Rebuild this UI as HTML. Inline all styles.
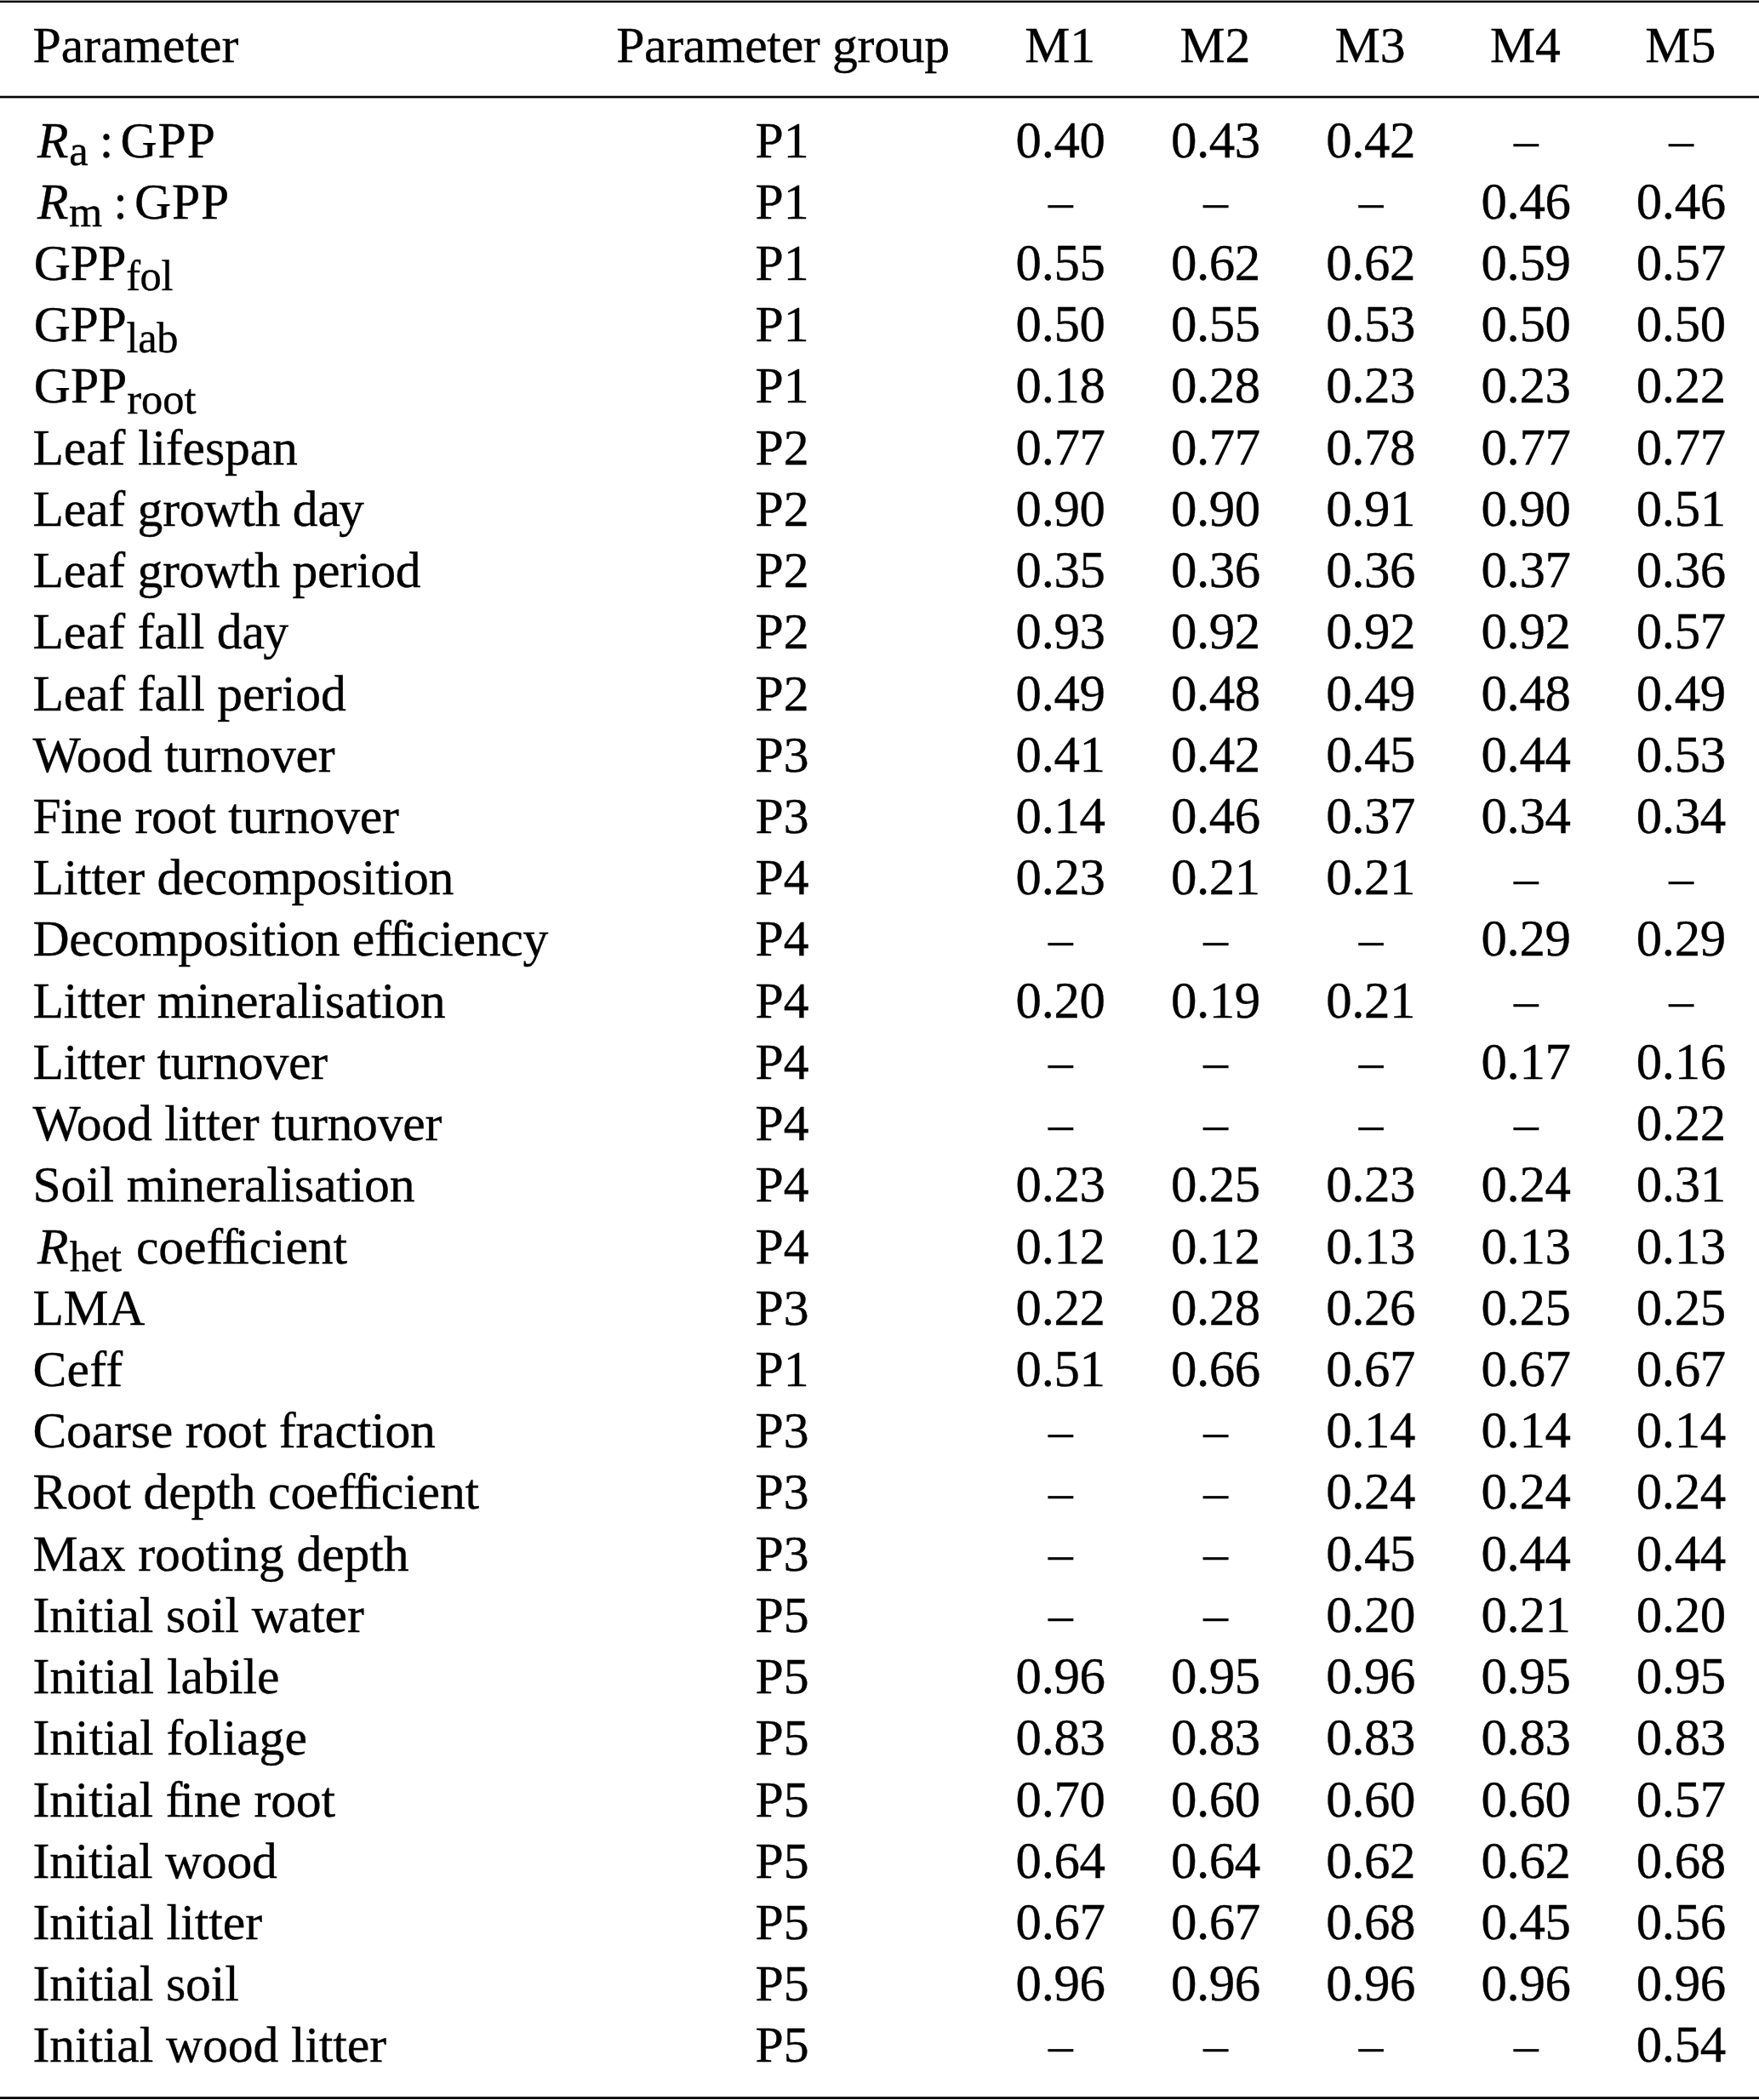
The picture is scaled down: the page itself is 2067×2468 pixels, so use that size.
<!DOCTYPE html>
<html lang="en"><head><meta charset="utf-8"><title>Table</title>
<style>
html,body{margin:0;padding:0;background:#fff;}
body{width:2067px;height:2468px;overflow:hidden;}
svg{display:block;}
text{stroke:#000;stroke-width:0.35px;font-family:"Liberation Serif","Times New Roman",Times,serif;font-size:59.7px;fill:#000;white-space:pre;}
.c{text-anchor:middle;}
.n{text-anchor:middle;font-size:57.4px;}
.d{text-anchor:middle;font-size:60.9px;letter-spacing:-0.4px;}
</style></head><body>
<svg width="2067" height="2468" viewBox="0 0 2067 2468">
<rect x="0" y="0" width="2067" height="2468" fill="#fff"/>
<rect x="0" y="0.6" width="2067" height="2.5" fill="#000"/>
<rect x="0" y="112.7" width="2067" height="2.6" fill="#000"/>
<rect x="0" y="2464.2" width="2067" height="2.8" fill="#000"/>

<text x='38.5' y='72.7'>Parameter</text>
<text class='c' x='920' y='72.7' letter-spacing='-0.3'>Parameter group</text>
<text class='c' x='1245.6' y='72.7'>M1</text>
<text class='c' x='1427.9' y='72.7'>M2</text>
<text class='c' x='1610.2' y='72.7'>M3</text>
<text class='c' x='1792.5' y='72.7'>M4</text>
<text class='c' x='1974.8' y='72.7'>M5</text>
<text x='38.5' y='184.60' letter-spacing='-0.300'><tspan font-style='italic' dx='5.6'>R</tspan><tspan font-size='50.45' dy='9.2' dx='0.9'>a</tspan><tspan dy='-9.2' dx='13.4'>:</tspan><tspan dx='8.6' letter-spacing='0.9'>GPP</tspan></text>
<text class='c' x='919' y='184.60'>P1</text>
<text class='d' x='1246.1' y='184.60'>0.40</text>
<text class='d' x='1428.4' y='184.60'>0.43</text>
<text class='d' x='1610.7' y='184.60'>0.42</text>
<text class='n' x='1793.3' y='184.10'>–</text>
<text class='n' x='1975.6' y='184.10'>–</text>
<text x='38.5' y='256.82' letter-spacing='-0.440'><tspan font-style='italic' dx='5.6'>R</tspan><tspan font-size='50.45' dy='9.2' dx='0.9'>m</tspan><tspan dy='-9.2' dx='13.4'>:</tspan><tspan dx='8.6' letter-spacing='0.9'>GPP</tspan></text>
<text class='c' x='919' y='256.82'>P1</text>
<text class='n' x='1246.4' y='256.32'>–</text>
<text class='n' x='1428.7' y='256.32'>–</text>
<text class='n' x='1611.0' y='256.32'>–</text>
<text class='d' x='1793.0' y='256.82'>0.46</text>
<text class='d' x='1975.3' y='256.82'>0.46</text>
<text x='38.5' y='329.04' letter-spacing='-0.380'><tspan dx='1.3'>GPP</tspan><tspan font-size='50.45' dy='12.3' dx='0'>fol</tspan></text>
<text class='c' x='919' y='329.04'>P1</text>
<text class='d' x='1246.1' y='329.04'>0.55</text>
<text class='d' x='1428.4' y='329.04'>0.62</text>
<text class='d' x='1610.7' y='329.04'>0.62</text>
<text class='d' x='1793.0' y='329.04'>0.59</text>
<text class='d' x='1975.3' y='329.04'>0.57</text>
<text x='38.5' y='401.26' letter-spacing='-0.280'><tspan dx='1.3'>GPP</tspan><tspan font-size='50.45' dy='12.3' dx='0'>lab</tspan></text>
<text class='c' x='919' y='401.26'>P1</text>
<text class='d' x='1246.1' y='401.26'>0.50</text>
<text class='d' x='1428.4' y='401.26'>0.55</text>
<text class='d' x='1610.7' y='401.26'>0.53</text>
<text class='d' x='1793.0' y='401.26'>0.50</text>
<text class='d' x='1975.3' y='401.26'>0.50</text>
<text x='38.5' y='473.48' letter-spacing='0.000'><tspan dx='1.3'>GPP</tspan><tspan font-size='50.45' dy='12.3' dx='0'>root</tspan></text>
<text class='c' x='919' y='473.48'>P1</text>
<text class='d' x='1246.1' y='473.48'>0.18</text>
<text class='d' x='1428.4' y='473.48'>0.28</text>
<text class='d' x='1610.7' y='473.48'>0.23</text>
<text class='d' x='1793.0' y='473.48'>0.23</text>
<text class='d' x='1975.3' y='473.48'>0.22</text>
<text x='38.5' y='545.70' letter-spacing='-0.150'>Leaf lifespan</text>
<text class='c' x='919' y='545.70'>P2</text>
<text class='d' x='1246.1' y='545.70'>0.77</text>
<text class='d' x='1428.4' y='545.70'>0.77</text>
<text class='d' x='1610.7' y='545.70'>0.78</text>
<text class='d' x='1793.0' y='545.70'>0.77</text>
<text class='d' x='1975.3' y='545.70'>0.77</text>
<text x='38.5' y='617.92' letter-spacing='-0.243'>Leaf growth da<tspan dx='-1.6'>y</tspan></text>
<text class='c' x='919' y='617.92'>P2</text>
<text class='d' x='1246.1' y='617.92'>0.90</text>
<text class='d' x='1428.4' y='617.92'>0.90</text>
<text class='d' x='1610.7' y='617.92'>0.91</text>
<text class='d' x='1793.0' y='617.92'>0.90</text>
<text class='d' x='1975.3' y='617.92'>0.51</text>
<text x='38.5' y='690.14' letter-spacing='-0.271'>Leaf growth period</text>
<text class='c' x='919' y='690.14'>P2</text>
<text class='d' x='1246.1' y='690.14'>0.35</text>
<text class='d' x='1428.4' y='690.14'>0.36</text>
<text class='d' x='1610.7' y='690.14'>0.36</text>
<text class='d' x='1793.0' y='690.14'>0.37</text>
<text class='d' x='1975.3' y='690.14'>0.36</text>
<text x='38.5' y='762.36' letter-spacing='-0.233'>Leaf fall da<tspan dx='-1.6'>y</tspan></text>
<text class='c' x='919' y='762.36'>P2</text>
<text class='d' x='1246.1' y='762.36'>0.93</text>
<text class='d' x='1428.4' y='762.36'>0.92</text>
<text class='d' x='1610.7' y='762.36'>0.92</text>
<text class='d' x='1793.0' y='762.36'>0.92</text>
<text class='d' x='1975.3' y='762.36'>0.57</text>
<text x='38.5' y='834.58' letter-spacing='-0.193'>Leaf fall period</text>
<text class='c' x='919' y='834.58'>P2</text>
<text class='d' x='1246.1' y='834.58'>0.49</text>
<text class='d' x='1428.4' y='834.58'>0.48</text>
<text class='d' x='1610.7' y='834.58'>0.49</text>
<text class='d' x='1793.0' y='834.58'>0.48</text>
<text class='d' x='1975.3' y='834.58'>0.49</text>
<text x='38.5' y='906.80' letter-spacing='-0.250'>Wood turnover</text>
<text class='c' x='919' y='906.80'>P3</text>
<text class='d' x='1246.1' y='906.80'>0.41</text>
<text class='d' x='1428.4' y='906.80'>0.42</text>
<text class='d' x='1610.7' y='906.80'>0.45</text>
<text class='d' x='1793.0' y='906.80'>0.44</text>
<text class='d' x='1975.3' y='906.80'>0.53</text>
<text x='38.5' y='979.02' letter-spacing='-0.224'>Fine root turnover</text>
<text class='c' x='919' y='979.02'>P3</text>
<text class='d' x='1246.1' y='979.02'>0.14</text>
<text class='d' x='1428.4' y='979.02'>0.46</text>
<text class='d' x='1610.7' y='979.02'>0.37</text>
<text class='d' x='1793.0' y='979.02'>0.34</text>
<text class='d' x='1975.3' y='979.02'>0.34</text>
<text x='38.5' y='1051.24' letter-spacing='-0.211'>Litter decomposition</text>
<text class='c' x='919' y='1051.24'>P4</text>
<text class='d' x='1246.1' y='1051.24'>0.23</text>
<text class='d' x='1428.4' y='1051.24'>0.21</text>
<text class='d' x='1610.7' y='1051.24'>0.21</text>
<text class='n' x='1793.3' y='1050.74'>–</text>
<text class='n' x='1975.6' y='1050.74'>–</text>
<text x='38.5' y='1123.46' letter-spacing='-0.305'>Decomposition e<tspan>f</tspan><tspan dx='-1.0'>f</tspan><tspan dx='-3.3'>i</tspan>ciency</text>
<text class='c' x='919' y='1123.46'>P4</text>
<text class='n' x='1246.4' y='1122.96'>–</text>
<text class='n' x='1428.7' y='1122.96'>–</text>
<text class='n' x='1611.0' y='1122.96'>–</text>
<text class='d' x='1793.0' y='1123.46'>0.29</text>
<text class='d' x='1975.3' y='1123.46'>0.29</text>
<text x='38.5' y='1195.68' letter-spacing='-0.195'>Litter mineralisation</text>
<text class='c' x='919' y='1195.68'>P4</text>
<text class='d' x='1246.1' y='1195.68'>0.20</text>
<text class='d' x='1428.4' y='1195.68'>0.19</text>
<text class='d' x='1610.7' y='1195.68'>0.21</text>
<text class='n' x='1793.3' y='1195.18'>–</text>
<text class='n' x='1975.6' y='1195.18'>–</text>
<text x='38.5' y='1267.90' letter-spacing='-0.214'>Litter turnover</text>
<text class='c' x='919' y='1267.90'>P4</text>
<text class='n' x='1246.4' y='1267.40'>–</text>
<text class='n' x='1428.7' y='1267.40'>–</text>
<text class='n' x='1611.0' y='1267.40'>–</text>
<text class='d' x='1793.0' y='1267.90'>0.17</text>
<text class='d' x='1975.3' y='1267.90'>0.16</text>
<text x='38.5' y='1340.12' letter-spacing='-0.263'>Wood litter turnover</text>
<text class='c' x='919' y='1340.12'>P4</text>
<text class='n' x='1246.4' y='1339.62'>–</text>
<text class='n' x='1428.7' y='1339.62'>–</text>
<text class='n' x='1611.0' y='1339.62'>–</text>
<text class='n' x='1793.3' y='1339.62'>–</text>
<text class='d' x='1975.3' y='1340.12'>0.22</text>
<text x='38.5' y='1412.34' letter-spacing='-0.194'>Soil mineralisation</text>
<text class='c' x='919' y='1412.34'>P4</text>
<text class='d' x='1246.1' y='1412.34'>0.23</text>
<text class='d' x='1428.4' y='1412.34'>0.25</text>
<text class='d' x='1610.7' y='1412.34'>0.23</text>
<text class='d' x='1793.0' y='1412.34'>0.24</text>
<text class='d' x='1975.3' y='1412.34'>0.31</text>
<text x='38.5' y='1484.56' letter-spacing='-0.164'><tspan font-style='italic' dx='5.6'>R</tspan><tspan font-size='50.45' dy='9.8' dx='1.4'>het</tspan><tspan dy='-9.8' dx='17.0'>coe<tspan>f</tspan><tspan dx='-1.0'>f</tspan><tspan dx='-3.3'>i</tspan>cient</tspan></text>
<text class='c' x='919' y='1484.56'>P4</text>
<text class='d' x='1246.1' y='1484.56'>0.12</text>
<text class='d' x='1428.4' y='1484.56'>0.12</text>
<text class='d' x='1610.7' y='1484.56'>0.13</text>
<text class='d' x='1793.0' y='1484.56'>0.13</text>
<text class='d' x='1975.3' y='1484.56'>0.13</text>
<text x='38.5' y='1556.78' letter-spacing='-0.450'>LMA</text>
<text class='c' x='919' y='1556.78'>P3</text>
<text class='d' x='1246.1' y='1556.78'>0.22</text>
<text class='d' x='1428.4' y='1556.78'>0.28</text>
<text class='d' x='1610.7' y='1556.78'>0.26</text>
<text class='d' x='1793.0' y='1556.78'>0.25</text>
<text class='d' x='1975.3' y='1556.78'>0.25</text>
<text x='38.5' y='1629.00' letter-spacing='0.200'>Ceff</text>
<text class='c' x='919' y='1629.00'>P1</text>
<text class='d' x='1246.1' y='1629.00'>0.51</text>
<text class='d' x='1428.4' y='1629.00'>0.66</text>
<text class='d' x='1610.7' y='1629.00'>0.67</text>
<text class='d' x='1793.0' y='1629.00'>0.67</text>
<text class='d' x='1975.3' y='1629.00'>0.67</text>
<text x='38.5' y='1701.22' letter-spacing='-0.205'>Coarse root fraction</text>
<text class='c' x='919' y='1701.22'>P3</text>
<text class='n' x='1246.4' y='1700.72'>–</text>
<text class='n' x='1428.7' y='1700.72'>–</text>
<text class='d' x='1610.7' y='1701.22'>0.14</text>
<text class='d' x='1793.0' y='1701.22'>0.14</text>
<text class='d' x='1975.3' y='1701.22'>0.14</text>
<text x='38.5' y='1773.44' letter-spacing='-0.176'>Root depth coe<tspan>f</tspan><tspan dx='-1.0'>f</tspan><tspan dx='-3.3'>i</tspan>cient</text>
<text class='c' x='919' y='1773.44'>P3</text>
<text class='n' x='1246.4' y='1772.94'>–</text>
<text class='n' x='1428.7' y='1772.94'>–</text>
<text class='d' x='1610.7' y='1773.44'>0.24</text>
<text class='d' x='1793.0' y='1773.44'>0.24</text>
<text class='d' x='1975.3' y='1773.44'>0.24</text>
<text x='38.5' y='1845.66' letter-spacing='-0.144'>Max rooting depth</text>
<text class='c' x='919' y='1845.66'>P3</text>
<text class='n' x='1246.4' y='1845.16'>–</text>
<text class='n' x='1428.7' y='1845.16'>–</text>
<text class='d' x='1610.7' y='1845.66'>0.45</text>
<text class='d' x='1793.0' y='1845.66'>0.44</text>
<text class='d' x='1975.3' y='1845.66'>0.44</text>
<text x='38.5' y='1917.88' letter-spacing='-0.106'>Initial soil water</text>
<text class='c' x='919' y='1917.88'>P5</text>
<text class='n' x='1246.4' y='1917.38'>–</text>
<text class='n' x='1428.7' y='1917.38'>–</text>
<text class='d' x='1610.7' y='1917.88'>0.20</text>
<text class='d' x='1793.0' y='1917.88'>0.21</text>
<text class='d' x='1975.3' y='1917.88'>0.20</text>
<text x='38.5' y='1990.10' letter-spacing='-0.000'>Initial labile</text>
<text class='c' x='919' y='1990.10'>P5</text>
<text class='d' x='1246.1' y='1990.10'>0.96</text>
<text class='d' x='1428.4' y='1990.10'>0.95</text>
<text class='d' x='1610.7' y='1990.10'>0.96</text>
<text class='d' x='1793.0' y='1990.10'>0.95</text>
<text class='d' x='1975.3' y='1990.10'>0.95</text>
<text x='38.5' y='2062.32' letter-spacing='-0.057'>Initial foliage</text>
<text class='c' x='919' y='2062.32'>P5</text>
<text class='d' x='1246.1' y='2062.32'>0.83</text>
<text class='d' x='1428.4' y='2062.32'>0.83</text>
<text class='d' x='1610.7' y='2062.32'>0.83</text>
<text class='d' x='1793.0' y='2062.32'>0.83</text>
<text class='d' x='1975.3' y='2062.32'>0.83</text>
<text x='38.5' y='2134.54' letter-spacing='-0.175'>Initial f<tspan dx='-3.0'>i</tspan>ne root</text>
<text class='c' x='919' y='2134.54'>P5</text>
<text class='d' x='1246.1' y='2134.54'>0.70</text>
<text class='d' x='1428.4' y='2134.54'>0.60</text>
<text class='d' x='1610.7' y='2134.54'>0.60</text>
<text class='d' x='1793.0' y='2134.54'>0.60</text>
<text class='d' x='1975.3' y='2134.54'>0.57</text>
<text x='38.5' y='2206.76' letter-spacing='-0.245'>Initial wood</text>
<text class='c' x='919' y='2206.76'>P5</text>
<text class='d' x='1246.1' y='2206.76'>0.64</text>
<text class='d' x='1428.4' y='2206.76'>0.64</text>
<text class='d' x='1610.7' y='2206.76'>0.62</text>
<text class='d' x='1793.0' y='2206.76'>0.62</text>
<text class='d' x='1975.3' y='2206.76'>0.68</text>
<text x='38.5' y='2278.98' letter-spacing='-0.046'>Initial litter</text>
<text class='c' x='919' y='2278.98'>P5</text>
<text class='d' x='1246.1' y='2278.98'>0.67</text>
<text class='d' x='1428.4' y='2278.98'>0.67</text>
<text class='d' x='1610.7' y='2278.98'>0.68</text>
<text class='d' x='1793.0' y='2278.98'>0.45</text>
<text class='d' x='1975.3' y='2278.98'>0.56</text>
<text x='38.5' y='2351.20' letter-spacing='-0.127'>Initial soil</text>
<text class='c' x='919' y='2351.20'>P5</text>
<text class='d' x='1246.1' y='2351.20'>0.96</text>
<text class='d' x='1428.4' y='2351.20'>0.96</text>
<text class='d' x='1610.7' y='2351.20'>0.96</text>
<text class='d' x='1793.0' y='2351.20'>0.96</text>
<text class='d' x='1975.3' y='2351.20'>0.96</text>
<text x='38.5' y='2423.42' letter-spacing='-0.122'>Initial wood litter</text>
<text class='c' x='919' y='2423.42'>P5</text>
<text class='n' x='1246.4' y='2422.92'>–</text>
<text class='n' x='1428.7' y='2422.92'>–</text>
<text class='n' x='1611.0' y='2422.92'>–</text>
<text class='n' x='1793.3' y='2422.92'>–</text>
<text class='d' x='1975.3' y='2423.42'>0.54</text>
</svg></body></html>
